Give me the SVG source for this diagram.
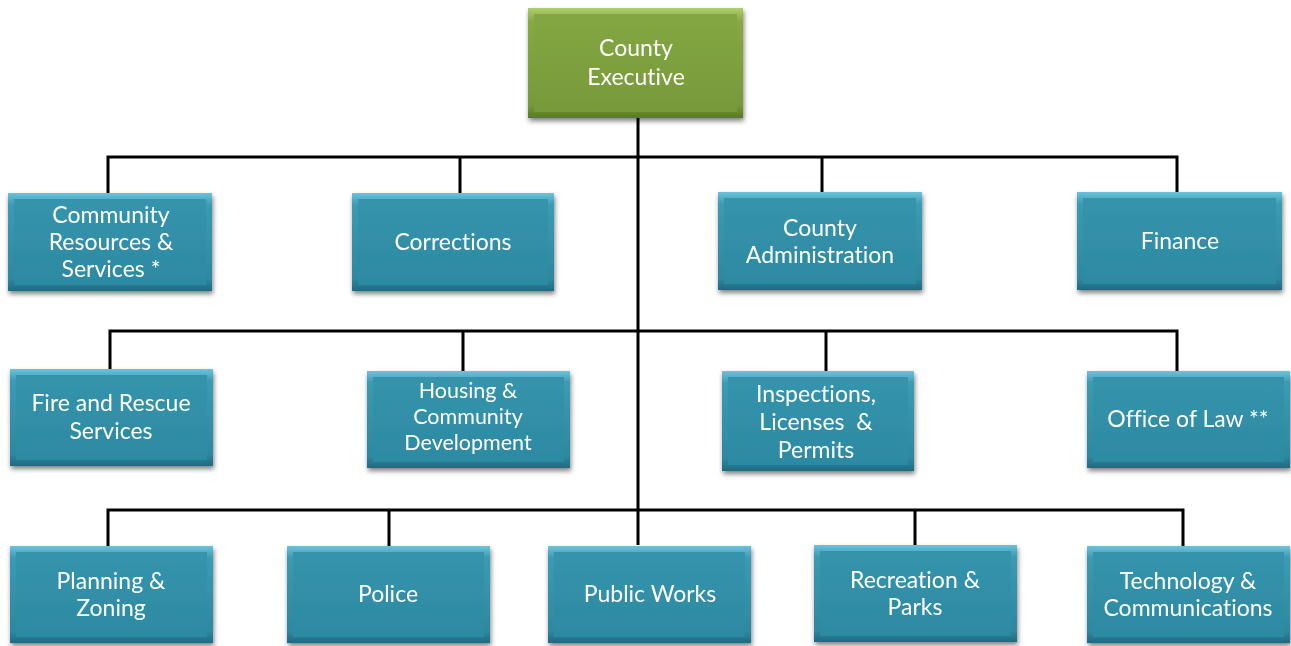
<svg xmlns="http://www.w3.org/2000/svg" width="1291" height="646" viewBox="0 0 1291 646">
<defs>
<linearGradient id="tealEdge" x1="0" y1="0" x2="0" y2="1">
<stop offset="0" stop-color="#6cc3da"/><stop offset="0.12" stop-color="#3a9bb4"/><stop offset="0.88" stop-color="#2d88a0"/><stop offset="1" stop-color="#1f6a80"/>
</linearGradient>
<linearGradient id="tealFace" x1="0" y1="0" x2="0" y2="1">
<stop offset="0" stop-color="#3594ac"/><stop offset="1" stop-color="#2c8aa2"/>
</linearGradient>
<linearGradient id="greenEdge" x1="0" y1="0" x2="0" y2="1">
<stop offset="0" stop-color="#b0cf70"/><stop offset="0.12" stop-color="#86a944"/><stop offset="0.88" stop-color="#76993a"/><stop offset="1" stop-color="#587a28"/>
</linearGradient>
<linearGradient id="greenFace" x1="0" y1="0" x2="0" y2="1">
<stop offset="0" stop-color="#84a743"/><stop offset="1" stop-color="#77993a"/>
</linearGradient>
<filter id="shadow" x="-10%" y="-10%" width="120%" height="130%">
<feGaussianBlur in="SourceAlpha" stdDeviation="2.5"/>
<feOffset dx="1" dy="3" result="b"/>
<feComponentTransfer><feFuncA type="linear" slope="0.5"/></feComponentTransfer>
<feMerge><feMergeNode/><feMergeNode in="SourceGraphic"/></feMerge>
</filter>
</defs>
<style>
.edge{fill:url(#tealEdge);}
.face{fill:url(#tealFace);}
.gedge{fill:url(#greenEdge);}
.gface{fill:url(#greenFace);}
.lbl{font-family:Lato,"Open Sans","Liberation Sans",sans-serif;font-size:23px;fill:#ffffff;text-anchor:middle;dominant-baseline:central;white-space:pre;font-variant-ligatures:none;}
.tight{font-size:21.5px;}
.conn{stroke:#000;stroke-width:3;fill:none;}
</style>
<g id="connectors">
<path class="conn" d="M638 118 V545"/>
<path class="conn" d="M108 193 V157 H1177 V193"/>
<path class="conn" d="M460 157 V193"/>
<path class="conn" d="M822 157 V192"/>
<path class="conn" d="M110 369 V331 H1177 V371"/>
<path class="conn" d="M463 331 V371"/>
<path class="conn" d="M826 331 V371"/>
<path class="conn" d="M108 546 V510 H1183 V546"/>
<path class="conn" d="M389 510 V546"/>
<path class="conn" d="M915 510 V546"/>
</g>
<g id="county-executive" filter="url(#shadow)">
<rect class="gedge" x="528" y="8" width="215" height="110"/>
<rect class="gface" x="534" y="14" width="203" height="98"/>
<text class="lbl" x="636" y="47">County</text>
<text class="lbl" x="636" y="76">Executive</text>
</g>
<g id="community-resources" filter="url(#shadow)">
<rect class="edge" x="8" y="193" width="204" height="98"/>
<rect class="face" x="14" y="199" width="192" height="86"/>
<text class="lbl" x="111" y="214">Community</text>
<text class="lbl" x="111" y="241">Resources &amp;</text>
<text class="lbl" x="111" y="268">Services *</text>
</g>
<g id="corrections" filter="url(#shadow)">
<rect class="edge" x="352" y="193" width="202" height="98"/>
<rect class="face" x="358" y="199" width="190" height="86"/>
<text class="lbl" x="453" y="241">Corrections</text>
</g>
<g id="county-administration" filter="url(#shadow)">
<rect class="edge" x="718" y="192" width="204" height="98"/>
<rect class="face" x="724" y="198" width="192" height="86"/>
<text class="lbl" x="820" y="227">County</text>
<text class="lbl" x="820" y="254">Administration</text>
</g>
<g id="finance" filter="url(#shadow)">
<rect class="edge" x="1077" y="192" width="205" height="98"/>
<rect class="face" x="1083" y="198" width="193" height="86"/>
<text class="lbl" x="1180" y="240">Finance</text>
</g>
<g id="fire-rescue" filter="url(#shadow)">
<rect class="edge" x="10" y="369" width="203" height="97"/>
<rect class="face" x="16" y="375" width="191" height="85"/>
<text class="lbl" x="111" y="402">Fire and Rescue</text>
<text class="lbl" x="111" y="430">Services</text>
</g>
<g id="housing" filter="url(#shadow)">
<rect class="edge" x="367" y="371" width="203" height="97"/>
<rect class="face" x="373" y="377" width="191" height="85"/>
<text class="lbl tight" x="468" y="390">Housing &amp;</text>
<text class="lbl tight" x="468" y="416">Community</text>
<text class="lbl tight" x="468" y="442">Development</text>
</g>
<g id="inspections" filter="url(#shadow)">
<rect class="edge" x="722" y="371" width="192" height="100"/>
<rect class="face" x="728" y="377" width="180" height="88"/>
<text class="lbl" x="816" y="393">Inspections,</text>
<text class="lbl" x="816" y="421">Licenses  &amp;</text>
<text class="lbl" x="816" y="449">Permits</text>
</g>
<g id="office-of-law" filter="url(#shadow)">
<rect class="edge" x="1087" y="371" width="203" height="97"/>
<rect class="face" x="1093" y="377" width="191" height="85"/>
<text class="lbl" x="1188" y="418">Office of Law **</text>
</g>
<g id="planning-zoning" filter="url(#shadow)">
<rect class="edge" x="10" y="546" width="203" height="97"/>
<rect class="face" x="16" y="552" width="191" height="85"/>
<text class="lbl" x="111" y="580">Planning &amp;</text>
<text class="lbl" x="111" y="607">Zoning</text>
</g>
<g id="police" filter="url(#shadow)">
<rect class="edge" x="287" y="546" width="203" height="97"/>
<rect class="face" x="293" y="552" width="191" height="85"/>
<text class="lbl" x="388" y="593">Police</text>
</g>
<g id="public-works" filter="url(#shadow)">
<rect class="edge" x="548" y="546" width="203" height="97"/>
<rect class="face" x="554" y="552" width="191" height="85"/>
<text class="lbl" x="650" y="593">Public Works</text>
</g>
<g id="recreation-parks" filter="url(#shadow)">
<rect class="edge" x="814" y="545" width="203" height="97"/>
<rect class="face" x="820" y="551" width="191" height="85"/>
<text class="lbl" x="915" y="579">Recreation &amp;</text>
<text class="lbl" x="915" y="606">Parks</text>
</g>
<g id="technology-communications" filter="url(#shadow)">
<rect class="edge" x="1087" y="546" width="203" height="97"/>
<rect class="face" x="1093" y="552" width="191" height="85"/>
<text class="lbl" x="1188" y="580">Technology &amp;</text>
<text class="lbl" x="1188" y="607">Communications</text>
</g>
</svg>
